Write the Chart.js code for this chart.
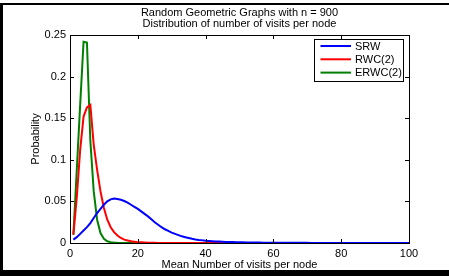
<!DOCTYPE html>
<html>
<head>
<meta charset="utf-8">
<script src="https://cdn.jsdelivr.net/npm/chart.js@4/dist/chart.umd.min.js"></script>
<style>
html,body{margin:0;padding:0;background:#fff;}
#wrap{width:449px;height:276px;position:relative;}
</style>
</head>
<body>
<div id="wrap"><canvas id="c" width="449" height="276"></canvas></div>
<script>
const titleLines = ["Random Geometric Graphs with n = 900", "Distribution of number of visits per node"];
const xTitle = "Mean Number of visits per node";
const yTitle = "Probability";
const seriesNames = ["SRW", "RWC(2)", "ERWC(2)"];
const seriesColors = ["#0000ff", "#ff0000", "#008000"];

const xs = [1,2,3,4,5,6,7,8,9,10,11,12,13,14,15,16,17,18,19,20,
21,22,23,24,25,26,27,28,29,30,31,32,33,34,35,36,37,38,39,40,
41,42,43,44,45,46,47,48,49,50,51,52,53,54,55,56,57,58,59,60,
61,62,63,64,65,66,67,68,69,70,71,72,73,74,75,76,77,78,79,80,
81,82,83,84,85,86,87,88,89,90,91,92,93,94,95,96,97,98,99,100];

const srw = [0.004,0.007,0.011,0.015,0.019,0.024,0.030,0.036,0.041,0.046,
0.050,0.0525,0.0535,0.053,0.052,0.0505,0.0485,0.046,0.0435,0.041,
0.038,0.035,0.032,0.0285,0.025,0.022,0.019,0.0165,0.0145,0.0125,
0.011,0.0095,0.008,0.007,0.006,0.005,0.0043,0.0037,0.0032,0.0028,
0.0025,0.0022,0.0019,0.0017,0.0015,0.0013,0.0012,0.0011,0.001,0.0009,
0.0008,0.0007,0.0006,0.0006,0.0005,0.0005,0.0004,0.0004,0.0003,0.0003,
0.0002,0.0002,0.0002,0.0002,0.0002,0.0002,0.0002,0.0002,0.0002,0.0002,
0.0001,0.0001,0.0001,0.0001,0.0001,0.0001,0.0001,0.0001,0.0001,0.0001,
0.0001,0.0001,0.0001,0.0001,0.0001,0,0,0,0,0,
0,0,0,0,0,0,0,0,0,0];

const rwc2 = [0.010,0.055,0.112,0.152,0.163,0.166,0.118,0.088,0.062,0.042,
0.028,0.019,0.013,0.009,0.006,0.004,0.003,0.002,0.0015,0.001,
0.0008,0.0006,0.0004,0.0003,0.0002,0.0001,0.0001,0.0001,0.0001,0.0001,
0.0001,0.0001,0.0001,0.0001,0.0001,0,0,0,0,0,
0,0,0,0,0,0,0,0,0,0,
0,0,0,0,0,0,0,0,0,0,
0,0,0,0,0,0,0,0,0,0,
0,0,0,0,0,0,0,0,0,0,
0,0,0,0,0,0,0,0,0,0,
0,0,0,0,0,0,0,0,0,0];

const erwc2 = [0.010,0.088,0.166,0.242,0.241,0.123,0.062,0.028,0.012,0.005,
0.002,0.001,0.0005,0.0002,0,0,0,0,0,0,
0,0,0,0,0,0,0,0,0,0,
0,0,0,0,0,0,0,0,0,0,
0,0,0,0,0,0,0,0,0,0,
0,0,0,0,0,0,0,0,0,0,
0,0,0,0,0,0,0,0,0,0,
0,0,0,0,0,0,0,0,0,0,
0,0,0,0,0,0,0,0,0,0,
0,0,0,0,0,0,0,0,0,0];

const xTicks = [0,20,40,60,80,100];
const yTicks = [0,0.05,0.1,0.15,0.2,0.25];
const yTickLabels = ["0","0.05","0.1","0.15","0.2","0.25"];

const FONT = "'Liberation Sans', Arial, Helvetica, sans-serif";
const allSeries = [srw, rwc2, erwc2];

const decor = {
  id: 'decor',
  beforeDraw(chart) {
    const ctx = chart.ctx;
    ctx.save();
    ctx.fillStyle = '#fff';
    ctx.fillRect(0, 0, chart.width, chart.height);
    ctx.restore();
  },
  afterDraw(chart) {
    const ctx = chart.ctx;
    const a = chart.chartArea;
    const xs_ = chart.scales.x, ys_ = chart.scales.y;
    ctx.save();
    // outer frame
    ctx.fillStyle = '#000';
    ctx.fillRect(0, 3, chart.width, 2);
    ctx.fillRect(0, 3, 3, chart.height - 3);
    ctx.fillRect(0, 270, chart.width, 6);
    // plot box
    ctx.strokeStyle = '#000';
    ctx.lineWidth = 1;
    ctx.strokeRect(Math.round(a.left) + 0.5, Math.round(a.top) + 0.5, Math.round(a.right - a.left), Math.round(a.bottom - a.top));
    // inward ticks
    const tl = 4;
    ctx.beginPath();
    xTicks.forEach(v => {
      const px = Math.round(xs_.getPixelForValue(v)) + 0.5;
      ctx.moveTo(px, a.bottom); ctx.lineTo(px, a.bottom - tl);
      ctx.moveTo(px, a.top); ctx.lineTo(px, a.top + tl);
    });
    yTicks.forEach(v => {
      const py = Math.round(ys_.getPixelForValue(v)) + 0.5;
      ctx.moveTo(a.left, py); ctx.lineTo(a.left + tl, py);
      ctx.moveTo(a.right, py); ctx.lineTo(a.right - tl, py);
    });
    ctx.stroke();
    // title
    ctx.fillStyle = '#000';
    ctx.font = '11px ' + FONT;
    ctx.textAlign = 'center';
    ctx.textBaseline = 'middle';
    const cx = (a.left + a.right) / 2;
    ctx.fillText(titleLines[0], cx, 12.5);
    ctx.fillText(titleLines[1], cx, 24);
    // legend
    const lx = 314.5, ly = 39.5, lw = 89, lh = 42;
    ctx.fillStyle = '#fff';
    ctx.fillRect(lx, ly, lw, lh);
    ctx.strokeStyle = '#000';
    ctx.lineWidth = 1;
    ctx.strokeRect(lx, ly, lw, lh);
    ctx.textAlign = 'left';
    chart.data.datasets.forEach((ds, i) => {
      const y = 46 + i * 13.3;
      ctx.strokeStyle = ds.borderColor;
      ctx.lineWidth = 2;
      ctx.beginPath();
      ctx.moveTo(320.5, y); ctx.lineTo(351, y);
      ctx.stroke();
      ctx.fillStyle = '#000';
      ctx.fillText(ds.label, 355, y + 0.5);
    });
    ctx.restore();
  }
};

new Chart(document.getElementById('c'), {
  type: 'line',
  data: {
    datasets: allSeries.map((s, i) => ({
      label: seriesNames[i],
      data: xs.map((x, j) => ({x: x, y: s[j]})),
      borderColor: seriesColors[i],
      backgroundColor: seriesColors[i],
      borderWidth: 2,
      pointRadius: 0,
      tension: 0,
      fill: false
    }))
  },
  options: {
    responsive: false,
    animation: false,
    layout: { padding: { left: 0, right: 40, top: 35, bottom: 0 } },
    plugins: {
      legend: { display: false },
      title: { display: false },
      tooltip: { enabled: false }
    },
    scales: {
      x: {
        type: 'linear',
        min: 0, max: 100,
        afterBuildTicks(s) { s.ticks = xTicks.map(v => ({value: v})); },
        afterFit(s) { s.height = 33; },
        grid: { display: false, drawTicks: false, tickLength: 0 },
        border: { display: false },
        ticks: { color: '#000', font: { family: FONT, size: 11 }, padding: 4, maxRotation: 0, autoSkip: false,
          callback: v => String(v) },
        title: { display: true, text: xTitle, color: '#000', font: { family: FONT, size: 11 }, padding: { top: 0, bottom: 4.5 } }
      },
      y: {
        type: 'linear',
        min: 0, max: 0.25,
        afterBuildTicks(s) { s.ticks = yTicks.map(v => ({value: v})); },
        afterFit(s) { s.width = 70; },
        grid: { display: false, drawTicks: false, tickLength: 0 },
        border: { display: false },
        ticks: { color: '#000', font: { family: FONT, size: 11 }, padding: 4, autoSkip: false,
          callback: (v, i) => yTickLabels[yTicks.indexOf(v)] ?? String(v) },
        title: { display: true, text: yTitle, color: '#000', font: { family: FONT, size: 11 }, padding: { top: 29.5, bottom: 0 } }
      }
    }
  },
  plugins: [decor]
});
</script>
</body>
</html>
